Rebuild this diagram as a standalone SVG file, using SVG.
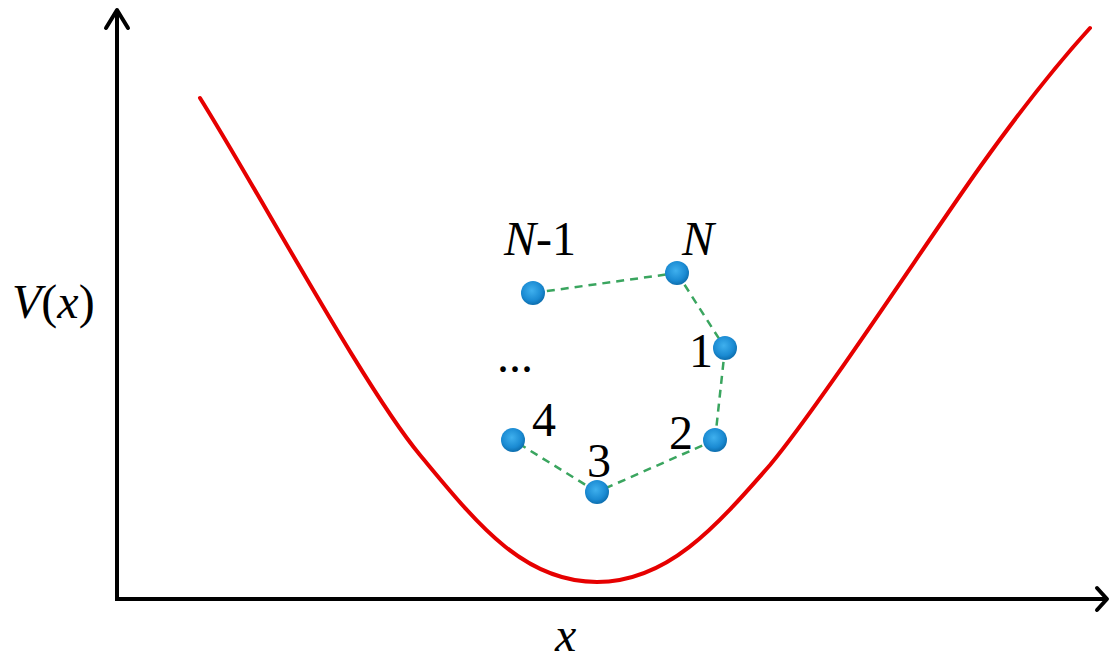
<svg xmlns="http://www.w3.org/2000/svg" width="1110" height="659" viewBox="0 0 1110 659">
<style>
.axis{stroke:#000;stroke-width:4;fill:none}
.head{stroke:#000;stroke-width:4;fill:none;stroke-linecap:round;stroke-linejoin:round}
.curve{stroke:#e60000;stroke-width:4;fill:none;stroke-linecap:round}
.link{stroke:#3aa55f;stroke-width:2.5;stroke-dasharray:8 6;fill:none}
.ball{fill:url(#bg)}
.lbl{font-family:"Liberation Serif","Times New Roman",serif;font-size:48px;fill:#000}
.it{font-style:italic}
</style>
<defs>
<radialGradient id="bg" cx="45%" cy="40%" r="60%">
<stop offset="0" stop-color="#3fb0ee"/>
<stop offset="0.7" stop-color="#1a8ad2"/>
<stop offset="1" stop-color="#0d6eae"/>
</radialGradient>
</defs>
<g id="axes">
<line class="axis" x1="117" y1="600" x2="117" y2="10"/>
<polyline class="head" points="106,28 117,10 128,28"/>
<line class="axis" x1="115" y1="599" x2="1106" y2="599"/>
<polyline class="head" points="1097,588 1107,599 1097,610"/>
</g>
<g id="potential">
<path class="curve" d="M200,98 C260,194 365,389 420,455 C475,521 522,582 597,582 C667,582 715,528 770,465 C820,405 930,237 980,167 C1020,111 1060,61 1090,28"/>
</g>
<g id="connectors">
<line class="link" x1="533" y1="293" x2="677" y2="273"/>
<line class="link" x1="677" y1="273" x2="725" y2="348"/>
<line class="link" x1="725" y1="348" x2="715" y2="440"/>
<line class="link" x1="715" y1="440" x2="597" y2="492"/>
<line class="link" x1="597" y1="492" x2="513" y2="440"/>
</g>
<g id="bead-N-1"><circle class="ball" cx="533" cy="293" r="12"/><text class="lbl" x="504" y="255"><tspan class="it">N</tspan>-1</text></g>
<g id="bead-N"><circle class="ball" cx="677" cy="273" r="12"/><text class="lbl it" x="682" y="255">N</text></g>
<g id="bead-1"><circle class="ball" cx="725" cy="348" r="12"/><text class="lbl" x="689" y="367">1</text></g>
<g id="bead-2"><circle class="ball" cx="715" cy="440" r="12"/><text class="lbl" x="669" y="449">2</text></g>
<g id="bead-3"><circle class="ball" cx="597" cy="492" r="12"/><text class="lbl" x="587" y="477">3</text></g>
<g id="bead-4"><circle class="ball" cx="513" cy="440" r="12"/><text class="lbl" x="532" y="436">4</text></g>
<g id="ellipsis"><text class="lbl" x="497" y="372">...</text></g>
<g id="labels">
<text class="lbl" x="12" y="318"><tspan class="it">V</tspan>(<tspan class="it">x</tspan>)</text>
<text class="lbl it" x="555" y="651">x</text>
</g>
</svg>
